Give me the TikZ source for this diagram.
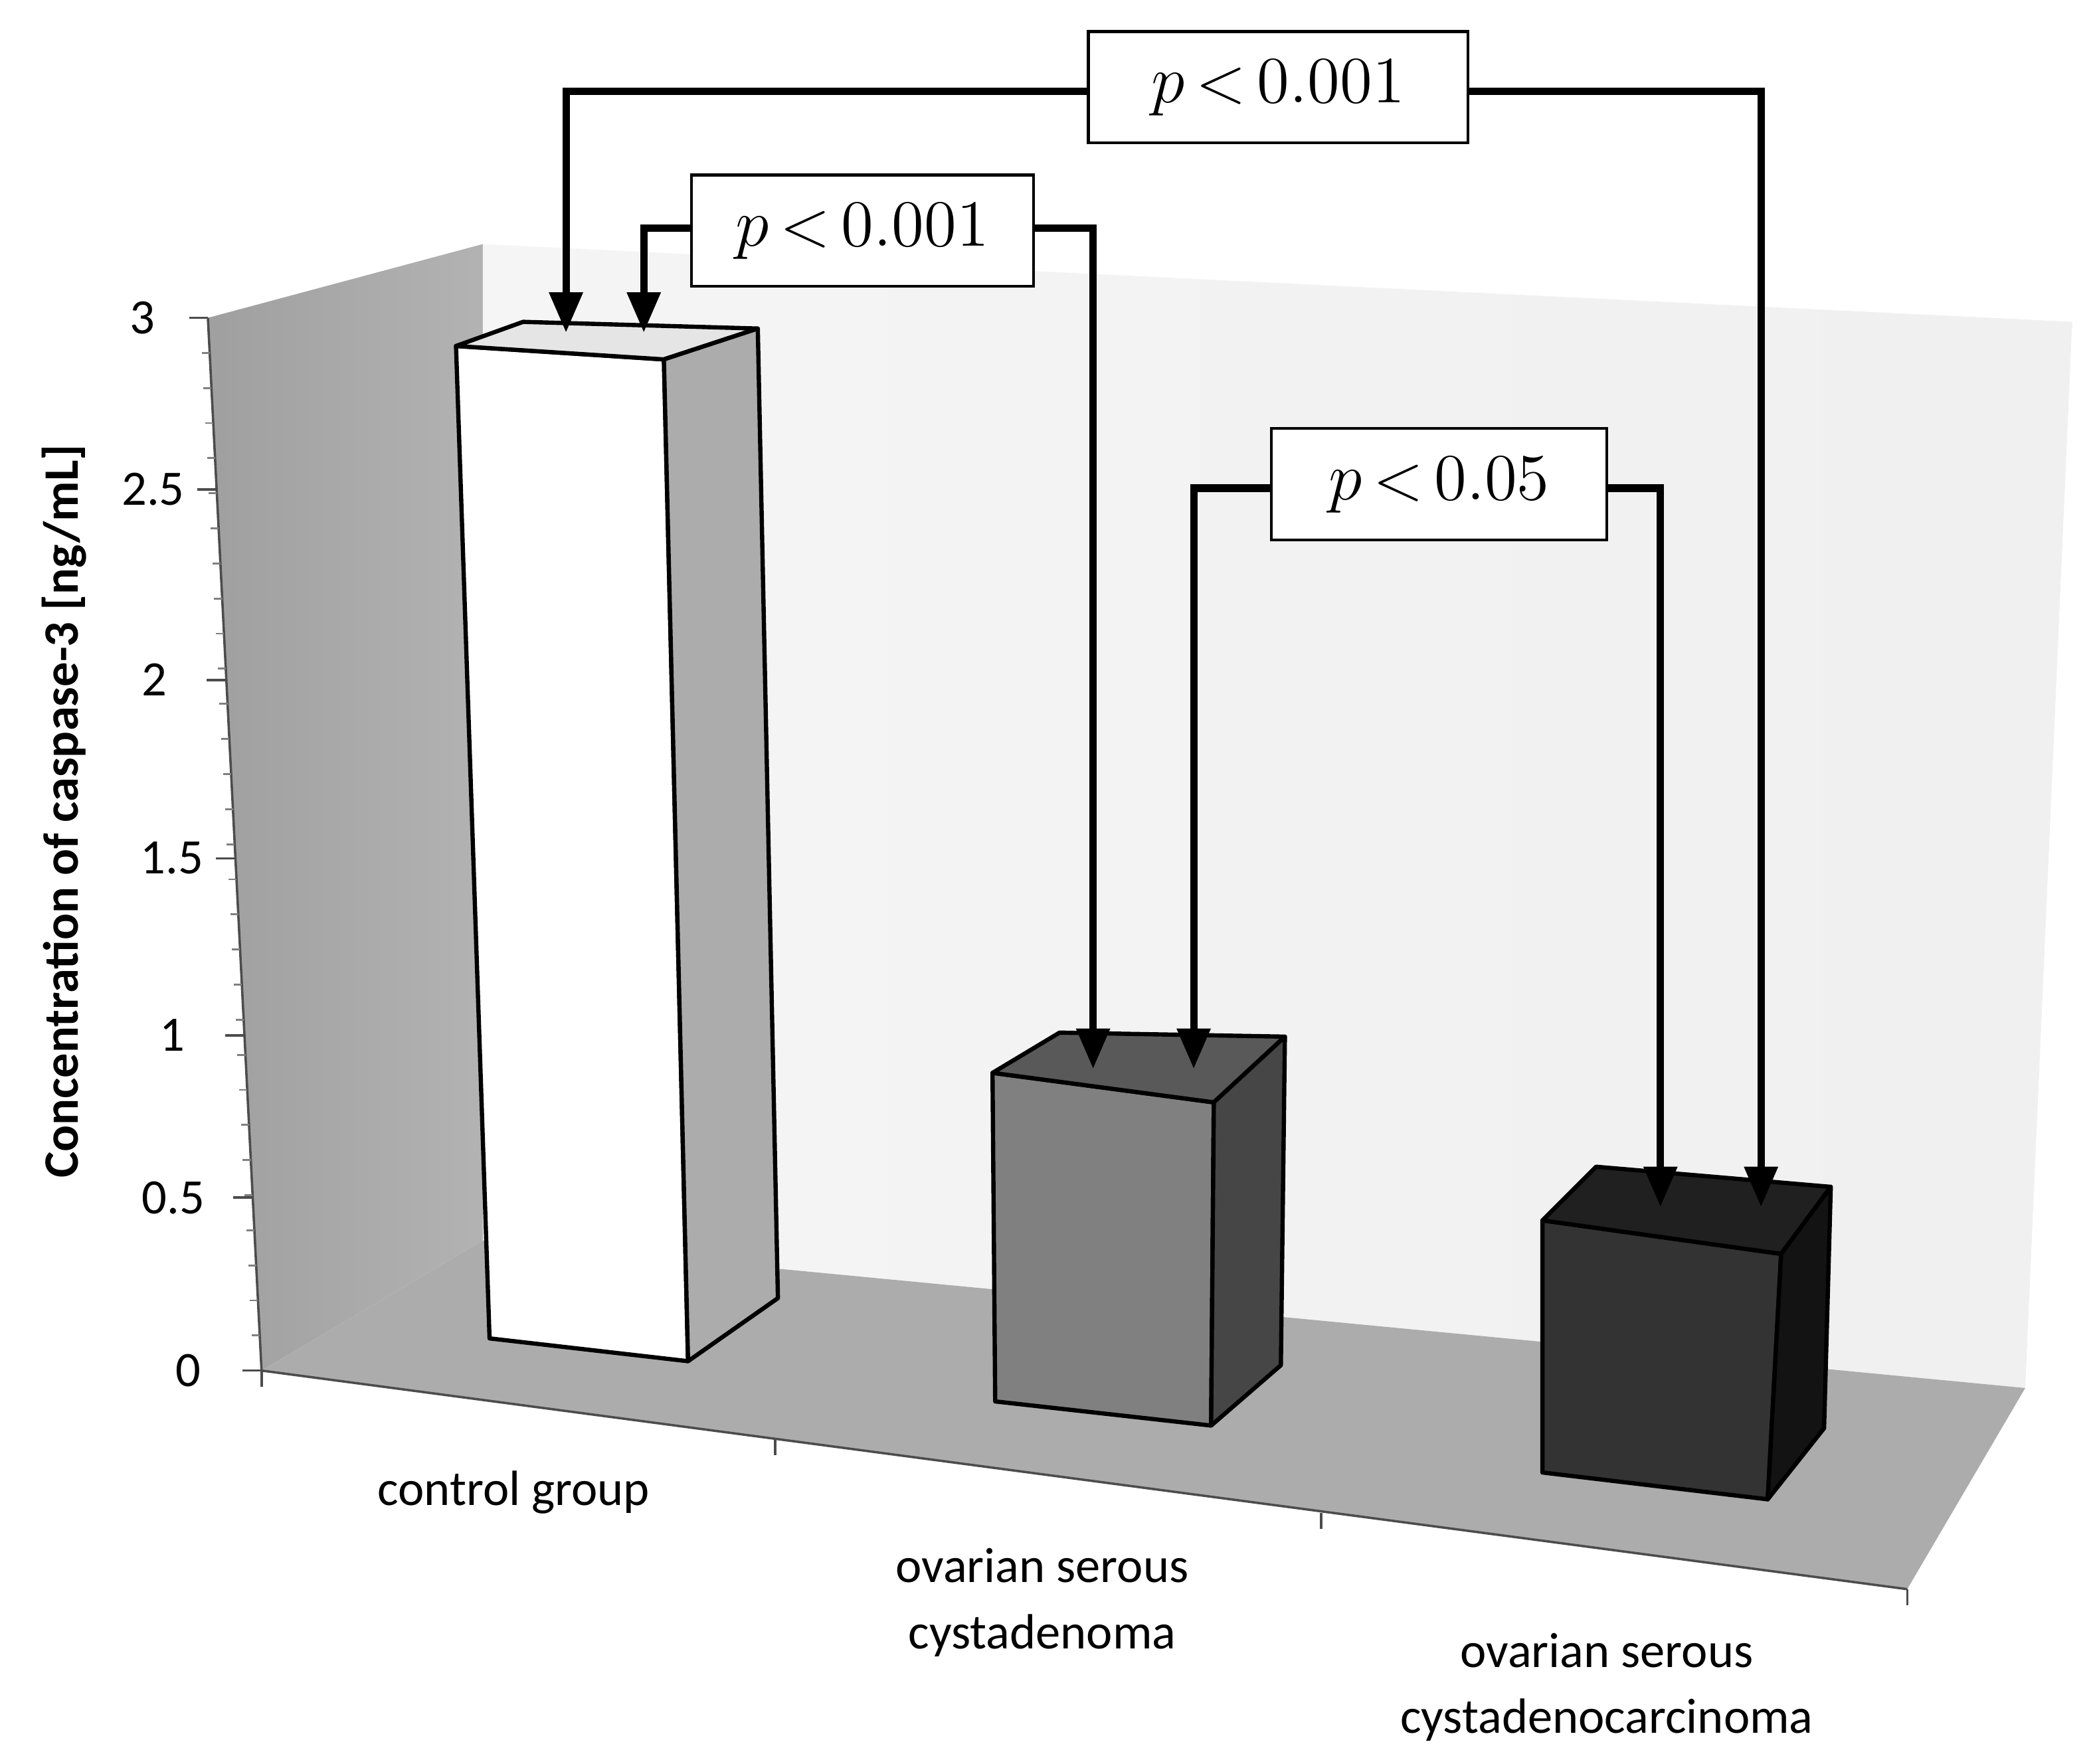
\documentclass[tikz,border=0pt]{standalone}
\usepackage{fontspec}
\setsansfont{Carlito}
\usetikzlibrary{arrows.meta}
\begin{document}
\begin{tikzpicture}[x=0.01cm,y=-0.01cm,
  edge/.style={line width=0.055cm,-{Triangle[length=0.3cm,width=0.24cm]}},
  pbox/.style={draw,line width=0.6pt,fill=white,minimum width=#1,minimum height=0.83cm,font=\fontsize{14}{17}\selectfont},
  lab/.style={font=\sffamily\fontsize{10.5}{14}\selectfont,align=center},
  tick/.style={font=\sffamily\fontsize{10.5}{12}\selectfont,anchor=east},
  bar/.style={draw,line width=0.9pt,line join=round}]
\useasboundingbox (0,0) rectangle (1562,1315);
% walls
\shade[left color=gray!75,right color=gray!60] (155,237)--(360,182)--(360,925)--(195,1022)--cycle;
\shade[left color=gray!8,right color=gray!12] (360,182)--(1545,240)--(1510,1035)--(360,925)--cycle;
\fill[gray!65] (195,1022)--(360,925)--(1510,1035)--(1422,1185)--cycle;
% axes
\draw[gray!60!black,line width=0.5pt] (155,237)--(195,1022)--(1422,1185);
\foreach \i in {0,...,30}
  \draw[gray,line width=0.4pt] ({155+\i*4/3},{237+\i*26.1667})--++(-6,0);
\foreach \py/\px in {237/155,365/161,507/168,640/175,772/182,893/188,1022/195}
  \draw[gray!60!black,line width=0.5pt] (\px,\py)--++(-14,0);
\node[tick] (t3) at (128,237) {3};
\node[tick] (t25) at (150,365) {2.5};
\node[tick] (t2) at (137,507) {2};
\node[tick] (t15) at (164,640) {1.5};
\node[tick] (t1) at (150,772) {1};
\node[tick] (t05) at (165,893) {0.5};
\node[tick] (t0) at (162,1022) {0};
\foreach \px/\py in {195/1022,578/1073,985/1128,1422/1185}\draw[gray!60!black,line width=0.5pt] (\px,\py)--++(0,12);
\node[font=\sffamily\bfseries\fontsize{10.5}{12}\selectfont,rotate=90] (yt) at (48,605) {Concentration of caspase-3 [ng/mL]};
% bars
\draw[bar,fill=white] (340,258)--(495,268)--(513,1015)--(365,998)--cycle;
\draw[bar,fill=gray!20] (340,258)--(390,240)--(565,245)--(495,268)--cycle;
\draw[bar,fill=gray!65] (495,268)--(565,245)--(580,968)--(513,1015)--cycle;
\draw[bar,fill=gray] (740,800)--(905,822)--(903,1063)--(742,1045)--cycle;
\draw[bar,fill=gray!70!black] (740,800)--(790,770)--(958,773)--(905,822)--cycle;
\draw[bar,fill=gray!55!black] (905,822)--(958,773)--(955,1018)--(903,1063)--cycle;
\draw[bar,fill=gray!40!black] (1150,910)--(1328,935)--(1318,1118)--(1150,1098)--cycle;
\draw[bar,fill=gray!25!black] (1150,910)--(1190,870)--(1365,885)--(1328,935)--cycle;
\draw[bar,fill=gray!15!black] (1328,935)--(1365,885)--(1360,1065)--(1318,1118)--cycle;
% target points
\coordinate (c1) at (422,248);
\coordinate (c2) at (480,248);
\coordinate (a1) at (815,797);
\coordinate (a2) at (890,797);
\coordinate (k1) at (1238,900);
\coordinate (k2) at (1313,900);
% p boxes
\node[pbox=2.83cm] (p1) at (953,65) {$p$\,<\,0.001};
\node[pbox=2.55cm] (p2) at (643,172) {$p$\,<\,0.001};
\node[pbox=2.5cm] (p3) at (1073,361) {$p$\,<\,0.05};
\draw[edge] (p1.west|-0,68) -| (c1);
\draw[edge] (p1.east|-0,68) -| (k2);
\draw[edge] (p2.west|-0,170) -| (c2);
\draw[edge] (p2.east|-0,170) -| (a1);
\draw[edge] (p3.west|-0,364) -| (a2);
\draw[edge] (p3.east|-0,364) -| (k1);
% labels
\node[lab] (l1) at (383,1113) {control group};
\node[lab] (l2) at (777,1195) {ovarian serous\\cystadenoma};
\node[lab] (l3) at (1198,1258) {ovarian serous\\cystadenocarcinoma};
\end{tikzpicture}
\end{document}
